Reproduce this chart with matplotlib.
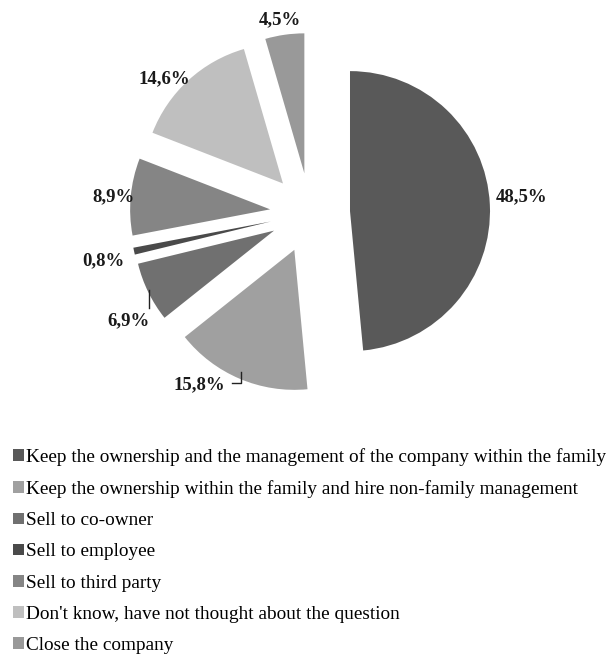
import numpy as np
import matplotlib.pyplot as plt
from matplotlib.patches import Patch

plt.rcParams['font.family'] = ['Liberation Serif', 'DejaVu Serif']

# Answers and their shares (%)
labels = [
    "Keep the ownership and the management of the company within the family",
    "Keep the ownership within the family and hire non-family management",
    "Sell to co-owner",
    "Sell to employee",
    "Sell to third party",
    "Don't know, have not thought about the question",
    "Close the company",
]
shares = [48.5, 15.8, 6.9, 0.8, 8.9, 14.6, 4.5]
colors = ['#595959', '#a0a0a0', '#707070', '#4a4a4a', '#858585', '#bfbfbf', '#999999']

# where each percentage label sits (data units, pie radius = 1)
label_pos = [(1.514, 0.114), (-0.793, -1.229), (-1.293, -0.771), (-1.479, -0.343),
             (-1.407, 0.114), (-1.043, 0.957), (-0.214, 1.379)]

W, H = 614, 656
cx, cy, R = 310, 213, 140  # pie centre and radius in pixels

fig = plt.figure(figsize=(W / 100, H / 100), dpi=100)
ax = fig.add_axes([0, 0, 1, 1])

wedges, _ = ax.pie(shares, startangle=90, counterclock=False,
                   explode=[0.286] * len(shares), colors=colors, radius=1,
                   wedgeprops=dict(linewidth=0))
ax.set_xlim(-cx / R, (W - cx) / R)
ax.set_ylim(-(H - cy) / R, cy / R)
ax.axis('off')

for v, (x, y) in zip(shares, label_pos):
    ax.text(x, y, f"{v:.1f}%".replace('.', ','), ha='center', va='center',
            fontsize=13.5, fontweight='bold', color='#1a1a1a')

# leader lines for the two labels pulled away from their slices
ax.plot([-1.15, -1.15], [-0.55, -0.679], color='#222222', lw=1)
ax.plot([-0.557, -0.493, -0.493], [-1.214, -1.214, -1.136], color='#222222', lw=1)

handles = [Patch(facecolor=c, edgecolor='none') for c in colors]
fig.legend(handles, labels, loc='upper left', bbox_to_anchor=(0.021, 0.317),
           frameon=False, fontsize=13.9, handlelength=0.55, handleheight=0.55,
           handletextpad=0.12, labelspacing=0.735, borderpad=0, borderaxespad=0)

fig.savefig('out.png', dpi=100, facecolor='white')
